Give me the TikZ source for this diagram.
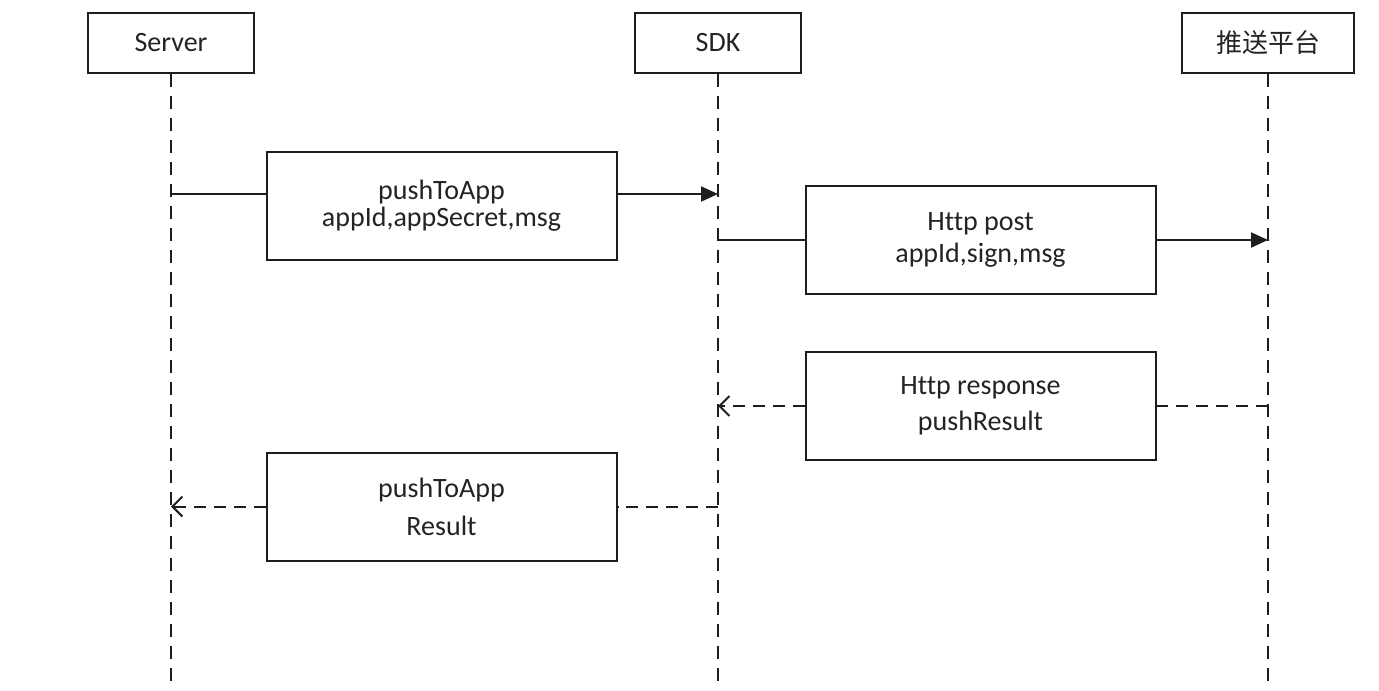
\documentclass[tikz,border=0pt]{standalone}
\usepackage{fontspec}
\setmainfont{Carlito}[Ligatures=NoCommon]
\newfontfamily\cjkfont{Noto Sans CJK SC}
\usetikzlibrary{arrows.meta}

\definecolor{textgray}{RGB}{35,35,35}
\definecolor{linegray}{RGB}{30,30,30}

\begin{document}
\begin{tikzpicture}[x=0.5pt, y=-0.5pt,
		actor/.style={draw=linegray, line width=1pt, minimum width=83pt, minimum height=30pt, inner sep=0pt, text=textgray, font=\fontsize{14}{16}\selectfont},
		msgbox/.style={draw=linegray, line width=1pt, minimum width=175pt, minimum height=54pt, inner sep=0pt, align=center, text=textgray},
		lifeline/.style={draw=linegray, line width=1pt, dash pattern=on 6.5pt off 4.5pt},
		call/.style={draw=linegray, line width=1pt},
		reply/.style={draw=linegray, line width=1pt, dash pattern=on 6pt off 4pt},
		filled/.style={-{Triangle[length=8.5pt, width=7.5pt]}},
		barb/.style={-{Straight Barb[length=5pt, width=10pt, line width=1pt]}}]

		\useasboundingbox (0,0) rectangle (1379,690);

		% lanes
		\node[actor] (server)   at (171,43)  {Server};
		\node[actor] (sdk)      at (718,43)  {SDK};
		\node[actor, minimum width=86pt, font=\cjkfont\fontsize{13}{15}\selectfont] (platform) at (1268,43) {推送平台};

		\coordinate (serverEnd)   at (171,690);
		\coordinate (sdkEnd)      at (718,690);
		\coordinate (platformEnd) at (1268,690);

		\draw[lifeline] (server.south)   -- (serverEnd);
		\draw[lifeline] (sdk.south)      -- (sdkEnd);
		\draw[lifeline] (platform.south) -- (platformEnd);

		% messages
		\node[msgbox, font=\fontsize{14}{13.5}\selectfont] (push)   at (441.5,206)   {pushToApp\\appId,appSecret,msg};
		\node[msgbox, font=\fontsize{14}{16}\selectfont]   (post)   at (980.5,240)   {Http post\\appId,sign,msg};
		\node[msgbox, font=\fontsize{14}{18}\selectfont]   (resp)   at (980.5,406)   {Http response\\pushResult};
		\node[msgbox, font=\fontsize{14}{19}\selectfont]   (result) at (441.5,506.5) {pushToApp\\Result};

		\coordinate (call1) at (171,194);

		\draw[call] (call1) -- (call1 -| push.west);
		\draw[call, filled] (call1 -| push.east) -- (call1 -| sdk);
		\draw[call] (sdk |- post) -- (post.west);
		\draw[call, filled] (post.east) -- (platform |- post);
		\draw[reply] (platform |- resp) -- (resp.east);
		\draw[reply, barb] (resp.west) -- (sdk |- resp);
		\draw[reply] (sdk |- result) -- (result.east);
		\draw[reply, barb] (result.west) -- (server |- result);
	\end{tikzpicture}
\end{document}
